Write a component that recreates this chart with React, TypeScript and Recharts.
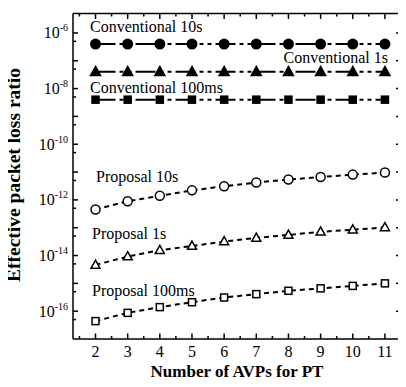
import { LineChart, Line, XAxis, YAxis } from 'recharts';

// values (x = number of AVPs for PT)
const avps = [2, 3, 4, 5, 6, 7, 8, 9, 10, 11];
const conventional10s = [4e-7, 4e-7, 4e-7, 4e-7, 4e-7, 4e-7, 4e-7, 4e-7, 4e-7, 4e-7];
const conventional1s = [4e-8, 4e-8, 4e-8, 4e-8, 4e-8, 4e-8, 4e-8, 4e-8, 4e-8, 4e-8];
const conventional100ms = [4e-9, 4e-9, 4e-9, 4e-9, 4e-9, 4e-9, 4e-9, 4e-9, 4e-9, 4e-9];
const proposal10s = [4.5e-13, 8.9e-13, 1.4e-12, 2.2e-12, 3.1e-12, 4.2e-12, 5.4e-12, 6.6e-12, 8.1e-12, 9.6e-12];
const proposal1s = [4.6e-15, 9.2e-15, 1.55e-14, 2.2e-14, 3.2e-14, 4.3e-14, 5.5e-14, 7.1e-14, 8.5e-14, 1.02e-13];
const proposal100ms = [4.4e-17, 8.7e-17, 1.4e-16, 2.1e-16, 3.1e-16, 4.1e-16, 5.4e-16, 6.6e-16, 8.1e-16, 1e-15];

const xTicks = [1.5, 2, 2.5, 3, 3.5, 4, 4.5, 5, 5.5, 6, 6.5, 7, 7.5, 8, 8.5, 9, 9.5, 10, 10.5, 11, 11.5];
const yMajor = [1e-6, 1e-7, 1e-8, 1e-9, 1e-10, 1e-11, 1e-12, 1e-13, 1e-14, 1e-15, 1e-16];
const yMinor = [5e-7, 5e-8, 5e-9, 5e-10, 5e-11, 5e-12, 5e-13, 5e-14, 5e-15, 5e-16, 5e-17];
const yTicks = [...yMajor, ...yMinor].sort((a, b) => a - b);

const data = avps.map((n, i) => ({
  n,
  c10: conventional10s[i],
  c1: conventional1s[i],
  c100: conventional100ms[i],
  p10: proposal10s[i],
  p1: proposal1s[i],
  p100: proposal100ms[i],
}));

const FONT = '"Liberation Serif", "Times New Roman", serif';
const isWhole = (v: number) => Math.abs(v - Math.round(v)) < 1e-6;
const isDecade = (v: number) => isWhole(Math.log10(v));

const BottomTick = ({ x, y, payload }: any) => {
  const major = isWhole(payload.value);
  return (
    <g>
      <line x1={x} x2={x} y1={y} y2={y - (major ? 5.5 : 3)} stroke="#000" strokeWidth={1.5} />
      {major && (
        <text x={x} y={y + 18} textAnchor="middle" fontFamily={FONT} fontSize={16} fill="#000">
          {payload.value}
        </text>
      )}
    </g>
  );
};

const TopTick = ({ x, y, payload }: any) => {
  const major = isWhole(payload.value);
  return <line x1={x} x2={x} y1={y} y2={y + (major ? 5.5 : 3)} stroke="#000" strokeWidth={1.5} />;
};

const LeftTick = ({ x, y, payload }: any) => {
  const v = payload.value;
  const major = isDecade(v);
  const exp = Math.round(Math.log10(v));
  return (
    <g>
      <line x1={x} x2={x + (major ? 5 : 3)} y1={y} y2={y} stroke="#000" strokeWidth={1.5} />
      {major && exp % 2 === 0 && (
        <text x={x - 5} y={y + 5.5} textAnchor="end" fontFamily={FONT} fontSize={16} fill="#000">
          10
          <tspan dy={-7} fontSize={10}>
            {exp}
          </tspan>
        </text>
      )}
    </g>
  );
};

const RightTick = ({ x, y, payload }: any) => {
  const major = isDecade(payload.value);
  return <line x1={x} x2={x - (major ? 5 : 3)} y1={y} y2={y} stroke="#000" strokeWidth={1.5} />;
};

const triangleDot = (filled: boolean, w: number) => (props: any) => {
  const { cx, cy, index } = props;
  const h = w * 0.9;
  return (
    <path
      key={index}
      d={`M${cx},${cy - h * 0.6} L${cx + w / 2},${cy + h * 0.4} L${cx - w / 2},${cy + h * 0.4} Z`}
      fill={filled ? '#000' : '#fff'}
      stroke="#000"
      strokeWidth={1.5}
      strokeDasharray="none"
    />
  );
};

const squareDot = (filled: boolean, s: number) => (props: any) => {
  const { cx, cy, index } = props;
  return (
    <rect
      key={index}
      x={cx - s / 2}
      y={cy - s / 2}
      width={s}
      height={s}
      fill={filled ? '#000' : '#fff'}
      stroke="#000"
      strokeWidth={1.5}
      strokeDasharray="none"
    />
  );
};

const circleDot = (filled: boolean, r: number) => (props: any) => {
  const { cx, cy, index } = props;
  return (
    <circle
      key={index}
      cx={cx}
      cy={cy}
      r={r}
      fill={filled ? '#000' : '#fff'}
      stroke="#000"
      strokeWidth={filled ? 0 : 1.5}
      strokeDasharray="none"
    />
  );
};

const CONV_DASH = '20 4 4 4 4 4';
const PROP_DASH = '5 4';
const AXIS = { stroke: '#000', strokeWidth: 1.5 };

const labelStyle = (left: number, top: number): React.CSSProperties => ({
  position: 'absolute',
  left,
  top,
  fontFamily: FONT,
  fontSize: 16,
  lineHeight: '16px',
  whiteSpace: 'nowrap',
  color: '#000',
});

export default function App() {
  return (
    <div style={{ position: 'relative', width: 398, height: 379 }}>
      <LineChart width={398} height={379} data={data} margin={{ top: 4.5, right: 4, bottom: 47, left: 0 }}>
        <XAxis
          xAxisId="b"
          dataKey="n"
          type="number"
          domain={[1.3, 11.5]}
          ticks={xTicks}
          interval={0}
          height={1}
          tickSize={0}
          tickMargin={0}
          tick={<BottomTick />}
          stroke="#000"
          axisLine={AXIS}
          allowDataOverflow
        />
        <XAxis
          xAxisId="t"
          orientation="top"
          dataKey="n"
          type="number"
          domain={[1.3, 11.5]}
          ticks={xTicks}
          interval={0}
          height={1}
          tickSize={0}
          tickMargin={0}
          tick={<TopTick />}
          stroke="#000"
          axisLine={AXIS}
          allowDataOverflow
        />
        <YAxis
          yAxisId="l"
          type="number"
          scale="log"
          domain={[1e-17, 5e-6]}
          ticks={yTicks}
          interval={0}
          width={65}
          tickSize={0}
          tickMargin={0}
          tick={<LeftTick />}
          stroke="#000"
          axisLine={AXIS}
          allowDataOverflow
        />
        <YAxis
          yAxisId="r"
          orientation="right"
          type="number"
          scale="log"
          domain={[1e-17, 5e-6]}
          ticks={yTicks}
          interval={0}
          width={1}
          tickSize={0}
          tickMargin={0}
          tick={<RightTick />}
          stroke="#000"
          axisLine={AXIS}
          allowDataOverflow
        />
        <Line xAxisId="b" yAxisId="l" dataKey="c10" stroke="#000" strokeWidth={2} strokeDasharray={CONV_DASH}
          dot={circleDot(true, 5.5)} isAnimationActive={false} />
        <Line xAxisId="b" yAxisId="l" dataKey="c1" stroke="#000" strokeWidth={2} strokeDasharray={CONV_DASH}
          dot={triangleDot(true, 10)} isAnimationActive={false} />
        <Line xAxisId="b" yAxisId="l" dataKey="c100" stroke="#000" strokeWidth={2} strokeDasharray={CONV_DASH}
          dot={squareDot(true, 7)} isAnimationActive={false} />
        <Line xAxisId="b" yAxisId="l" dataKey="p10" stroke="#000" strokeWidth={2} strokeDasharray={PROP_DASH}
          dot={circleDot(false, 4.5)} isAnimationActive={false} />
        <Line xAxisId="b" yAxisId="l" dataKey="p1" stroke="#000" strokeWidth={2} strokeDasharray={PROP_DASH}
          dot={triangleDot(false, 9)} isAnimationActive={false} />
        <Line xAxisId="b" yAxisId="l" dataKey="p100" stroke="#000" strokeWidth={2} strokeDasharray={PROP_DASH}
          dot={squareDot(false, 7)} isAnimationActive={false} />
      </LineChart>

      <div style={labelStyle(82, 11)}>Conventional 10s</div>
      <div style={{ ...labelStyle(0, 42), left: 'auto', right: 18 }}>Conventional 1s</div>
      <div style={labelStyle(82, 72)}>Conventional 100ms</div>
      <div style={labelStyle(88, 161)}>Proposal 10s</div>
      <div style={labelStyle(84, 218)}>Proposal 1s</div>
      <div style={labelStyle(84, 275)}>Proposal 100ms</div>

      <div
        style={{
          position: 'absolute',
          left: 65,
          width: 328,
          top: 355,
          textAlign: 'center',
          fontFamily: FONT,
          fontWeight: 'bold',
          fontSize: 17,
          lineHeight: '18px',
          whiteSpace: 'nowrap',
        }}
      >
        Number of AVPs for PT
      </div>
      <div
        style={{
          position: 'absolute',
          left: 6,
          top: 167,
          transform: 'translate(-50%, -50%) rotate(-90deg)',
          fontFamily: FONT,
          fontWeight: 'bold',
          fontSize: 19.5,
          lineHeight: '20px',
          whiteSpace: 'nowrap',
        }}
      >
        Effective packet loss ratio
      </div>
    </div>
  );
}
